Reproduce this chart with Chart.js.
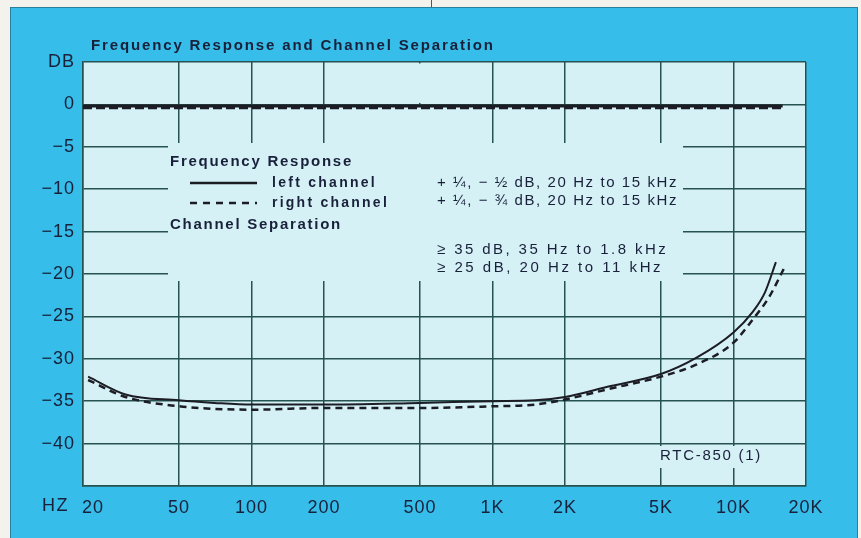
<!DOCTYPE html>
<html><head><meta charset="utf-8">
<script src="https://cdn.jsdelivr.net/npm/chart.js@4"></script>
<style>html,body{margin:0;padding:0;background:#f4f2ec;overflow:hidden}canvas{display:block}</style>
</head><body>
<canvas id="c" width="861" height="538"></canvas>
<script>
// ---- data ----
const xTickValues = [20, 50, 100, 200, 500, 1000, 2000, 5000, 10000, 20000];
const xTickLabels = ['\u2002\u200220', '50', '100', '200', '500', '1K', '2K', '5K', '10K', '20K'];
const yTickValues = [5, 0, -5, -10, -15, -20, -25, -30, -35, -40, -45];

const frFreq = [20, 100, 1000, 10000, 16000];
const frLeft = [-0.2, -0.2, -0.2, -0.2, -0.2];
const frRight = [-0.4, -0.4, -0.4, -0.4, -0.4];

const sepLeftFreq = [21, 30, 50, 70, 100, 200, 500, 1000, 1500, 2000, 3000, 5000, 7000, 10000, 12000, 13500, 15000];
const sepLeft = [-32.1, -34.2, -34.9, -35.2, -35.4, -35.4, -35.2, -35.0, -34.9, -34.5, -33.3, -31.8, -29.9, -26.9, -24.5, -22.2, -18.6];

const sepRightFreq = [21, 30, 50, 70, 100, 200, 500, 1000, 1500, 2000, 3000, 5000, 7000, 10000, 12000, 14000, 16500];
const sepRight = [-32.5, -34.5, -35.6, -35.9, -36.0, -35.8, -35.8, -35.6, -35.4, -34.8, -33.6, -32.1, -30.7, -28.1, -25.4, -22.8, -18.9];

// ---- styles ----
const PAGE = '#f4f2ec', PANEL = '#36bde9', PLOT = '#d5f1f6', GRID = '#26524f', INK = '#18203a', CURVE = '#1c1c24';
const FONT = '"Liberation Sans", Arial, Helvetica, sans-serif';

const pts = (xs, ys) => xs.map((x, i) => ({x, y: ys[i]}));

function spaced(ctx, text, x, y, font, target) {
  ctx.font = font;
  ctx.letterSpacing = '0px';
  const w = ctx.measureText(text).width;
  const n = [...text].length;
  const s = Math.max(0, (target - w) / n);
  ctx.letterSpacing = s.toFixed(2) + 'px';
  ctx.fillText(text, x, y);
  ctx.letterSpacing = '0px';
}

const deco = {
  id: 'deco',
  beforeDraw(chart) {
    const ctx = chart.ctx, a = chart.chartArea;
    ctx.save();
    ctx.fillStyle = PAGE; ctx.fillRect(0, 0, 861, 538);
    ctx.fillStyle = PANEL; ctx.fillRect(10, 7, 848, 531);
    ctx.strokeStyle = '#2a7f9a'; ctx.lineWidth = 1; ctx.strokeRect(10.5, 7.5, 847, 540);
    ctx.beginPath(); ctx.moveTo(431.5, 0); ctx.lineTo(431.5, 7); ctx.strokeStyle = '#555'; ctx.stroke();
    ctx.fillStyle = PLOT; ctx.fillRect(a.left, a.top, a.right - a.left, a.bottom - a.top);
    ctx.restore();
    ctx.letterSpacing = '1px';
  },
  beforeDatasetsDraw(chart) {
    const ctx = chart.ctx, a = chart.chartArea, xs = chart.scales.x, ys = chart.scales.y;
    ctx.save();
    ctx.letterSpacing = '0px';
    ctx.fillStyle = PLOT;
    // legend window where the grid is interrupted
    ctx.fillRect(168, 143, 683 - 168, 281 - 143);
    // upper part of the 500 Hz line is absent (keep the 0 dB line)
    const p500 = xs.getPixelForValue(500);
    const y0 = ys.getPixelForValue(0);
    ctx.fillRect(p500 - 3, a.top + 1.5, 6, y0 - 1.5 - (a.top + 1.5));
    ctx.fillRect(p500 - 3, y0 + 1.5, 6, 143 - (y0 + 1.5));
    // label window for RTC-850 (1)
    ctx.fillRect(655, 446, 113, 22);
    ctx.restore();
  },
  afterDraw(chart) {
    const ctx = chart.ctx;
    ctx.save();
    ctx.fillStyle = INK;
    ctx.textBaseline = 'middle';
    ctx.textAlign = 'left';
    spaced(ctx, 'Frequency Response and Channel Separation', 91, 46, 'bold 15px ' + FONT, 404);
    spaced(ctx, 'Frequency Response', 170, 162, 'bold 15px ' + FONT, 183);
    spaced(ctx, 'left channel', 272, 183, 'bold 14px ' + FONT, 105);
    spaced(ctx, 'right channel', 272, 203, 'bold 14px ' + FONT, 117);
    spaced(ctx, 'Channel Separation', 170, 225, 'bold 15px ' + FONT, 172);
    spaced(ctx, '+ \u00bc, \u2212 \u00bd dB, 20 Hz to 15 kHz', 437, 183, '15px ' + FONT, 241);
    spaced(ctx, '+ \u00bc, \u2212 \u00be dB, 20 Hz to 15 kHz', 437, 201, '15px ' + FONT, 241);
    spaced(ctx, '\u2265 35 dB, 35 Hz to 1.8 kHz', 437, 250, '15px ' + FONT, 231);
    spaced(ctx, '\u2265 25 dB, 20 Hz to 11 kHz', 437, 268, '15px ' + FONT, 226);
    spaced(ctx, 'RTC-850 (1)', 660, 456, '15px ' + FONT, 102);
    spaced(ctx, 'HZ', 42, 506, '18px ' + FONT, 27);
    // legend sample lines
    ctx.strokeStyle = CURVE;
    ctx.lineWidth = 2.5;
    ctx.beginPath(); ctx.moveTo(190, 183); ctx.lineTo(257, 183); ctx.stroke();
    ctx.setLineDash([7, 6]);
    ctx.beginPath(); ctx.moveTo(190, 203); ctx.lineTo(257, 203); ctx.stroke();
    ctx.restore();
  }
};

new Chart(document.getElementById('c'), {
  type: 'line',
  data: {
    datasets: [
      {label: 'Frequency response left', data: pts(frFreq, frLeft), borderColor: CURVE, borderWidth: 3},
      {label: 'Frequency response right', data: pts(frFreq, frRight), borderColor: CURVE, borderWidth: 3, borderDash: [9, 4]},
      {label: 'Separation left', data: pts(sepLeftFreq, sepLeft), borderColor: CURVE, borderWidth: 2},
      {label: 'Separation right', data: pts(sepRightFreq, sepRight), borderColor: CURVE, borderWidth: 2.5, borderDash: [7, 5]}
    ]
  },
  options: {
    responsive: false,
    devicePixelRatio: 1,
    animation: false,
    layout: {padding: {left: 10, right: 55, top: 62, bottom: 0}},
    elements: {point: {radius: 0}, line: {cubicInterpolationMode: 'monotone', fill: false}},
    plugins: {legend: {display: false}, title: {display: false}, tooltip: {enabled: false}},
    scales: {
      x: {
        type: 'logarithmic', min: 20, max: 20000,
        afterBuildTicks: s => { s.ticks = xTickValues.map(v => ({value: v})); },
        afterFit: s => { s.height = 52; },
        ticks: {
          autoSkip: false, maxRotation: 0, padding: 11, color: INK,
          font: {family: FONT, size: 18},
          callback: (v) => { const i = xTickValues.indexOf(v); return i >= 0 ? xTickLabels[i] : ''; }
        },
        grid: {color: GRID, lineWidth: 1.5, drawTicks: false},
        border: {color: GRID, width: 1.5}
      },
      y: {
        type: 'linear', min: -45, max: 5,
        afterBuildTicks: s => { s.ticks = yTickValues.map(v => ({value: v})); },
        afterFit: s => { s.width = 73; },
        ticks: {
          padding: 8, color: INK,
          font: {family: FONT, size: 18},
          callback: v => v === 5 ? 'DB' : (v === -45 ? '' : String(v).replace('-', '\u2212'))
        },
        grid: {color: GRID, lineWidth: 1.5, drawTicks: false},
        border: {color: GRID, width: 1.5}
      }
    }
  },
  plugins: [deco]
});
</script>
</body></html>
